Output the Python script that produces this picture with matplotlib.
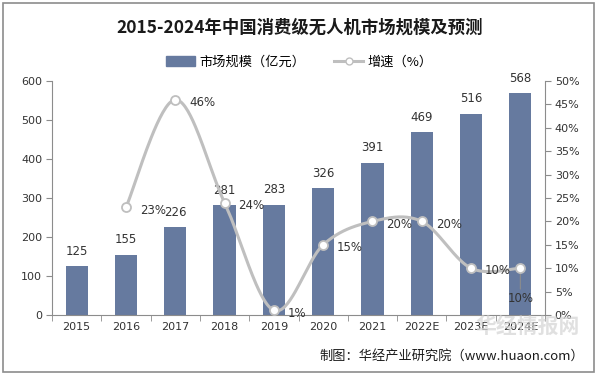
import matplotlib
matplotlib.use("Agg")
import matplotlib.pyplot as plt
import numpy as np
from matplotlib.patches import Rectangle
from matplotlib.lines import Line2D

plt.rcParams['font.family'] = ['Noto Sans CJK SC', 'DejaVu Sans']

years = ['2015', '2016', '2017', '2018', '2019', '2020', '2021', '2022E', '2023E', '2024E']
market = [125, 155, 226, 281, 283, 326, 391, 469, 516, 568]
growth = [None, 23, 46, 24, 1, 15, 20, 20, 10, 10]
title = '2015-2024年中国消费级无人机市场规模及预测'
bar_label = '市场规模（亿元）'
line_label = '增速（%）'
source = '制图：华经产业研究院（www.huaon.com）'
watermark = '华经情报网'

BAR_C = '#667A9F'
LINE_C = '#BFBFBF'
AX_C = '#8C8C8C'
TXT_C = '#333333'

W, H = 599, 375
fig = plt.figure(figsize=(W / 100, H / 100), dpi=100)
ax = fig.add_axes([52 / W, 1 - 315 / H, (545 - 52) / W, (315 - 81) / H])
ax2 = ax.twinx()

x = np.arange(len(years))
ax.bar(x, market, width=0.45, color=BAR_C, zorder=2)
for xi, v in zip(x, market):
    ax.annotate(str(v), (xi, v), xytext=(0, 6), textcoords='offset points',
                ha='center', va='bottom', fontsize=8.5, color=TXT_C, family='DejaVu Sans')

ax.set_xlim(-0.5, len(years) - 0.5)
ax.set_ylim(0, 600)
ax.set_yticks(range(0, 601, 100))
ax.set_xticks(x)
ax.set_xticklabels(years)
ax.set_xticks(np.arange(-0.5, len(years), 1), minor=True)
ax.tick_params(axis='x', which='major', length=0, labelsize=8, colors=TXT_C, pad=5)
ax.tick_params(axis='x', which='minor', length=4, color=AX_C, direction='out')
ax.tick_params(axis='y', length=4, color=AX_C, labelsize=8, labelcolor=TXT_C, pad=3)
for lab in ax.get_xticklabels() + ax.get_yticklabels():
    lab.set_family('DejaVu Sans')
for s in ['top', 'right']:
    ax.spines[s].set_visible(False)
for s in ['left', 'bottom']:
    ax.spines[s].set_color(AX_C)

# smooth line (Bezier/Catmull-Rom through the data points, like Excel smoothing)
gx = np.array([i for i, g in enumerate(growth) if g is not None], dtype=float)
gy = np.array([g for g in growth if g is not None], dtype=float)
P = np.column_stack([gx, gy])
Pext = np.vstack([P[0], P, P[-1]])
curve = []
t = np.linspace(0, 1, 40)
for i in range(1, len(Pext) - 2):
    p0, p1, p2, p3 = Pext[i - 1], Pext[i], Pext[i + 1], Pext[i + 2]
    c1 = p1 + (p2 - p0) / 6
    c2 = p2 - (p3 - p1) / 6
    seg = ((1 - t)[:, None] ** 3 * p1 + 3 * ((1 - t) ** 2 * t)[:, None] * c1
           + 3 * ((1 - t) * t ** 2)[:, None] * c2 + (t ** 3)[:, None] * p2)
    curve.append(seg)
curve = np.vstack(curve)
ax2.plot(curve[:, 0], curve[:, 1], color=LINE_C, lw=2.2, zorder=3, solid_capstyle='round')
ax2.plot(gx, gy, 'o', ms=6.5, mfc='white', mec=LINE_C, mew=1.3, zorder=4)
for xi, yi in zip(gx, gy):
    if xi == gx[-1]:
        ax2.annotate(f'{int(yi)}%', (xi, yi), xytext=(0, -17), textcoords='offset points',
                     ha='center', va='top', fontsize=8.5, color=TXT_C, family='DejaVu Sans',
                     arrowprops=dict(arrowstyle='-', color=AX_C, lw=0.8, shrinkA=0, shrinkB=3))
    else:
        ax2.annotate(f'{int(yi)}%', (xi, yi), xytext=(10, -2), textcoords='offset points',
                     ha='left', va='center', fontsize=8.5, color=TXT_C, family='DejaVu Sans')
ax2.set_ylim(0, 50)
ax2.set_yticks(range(0, 51, 5))
ax2.set_yticklabels([f'{v}%' for v in range(0, 51, 5)])
ax2.tick_params(axis='y', length=4, color=AX_C, labelsize=8, labelcolor=TXT_C, pad=3)
for lab in ax2.get_yticklabels():
    lab.set_family('DejaVu Sans')
for s in ['top', 'left', 'bottom']:
    ax2.spines[s].set_visible(False)
ax2.spines['right'].set_color(AX_C)

# title and legend
fig.text(0.5, 1 - 28 / H, title, ha='center', va='center', fontsize=12.5,
         fontweight='bold', color='#1a1a1a')
handles = [Rectangle((0, 0), 1, 1, color=BAR_C),
           Line2D([], [], color=LINE_C, lw=2.2, marker='o', ms=5, mfc='white', mec=LINE_C)]
fig.legend(handles, [bar_label, line_label], loc='center', bbox_to_anchor=(0.5, 1 - 62 / H),
           ncol=2, frameon=False, fontsize=9.5, handlelength=2.2, columnspacing=2.2,
           handletextpad=0.3)

# watermark + source
fig.text(528 / W, 1 - 326 / H, watermark, ha='center', va='center', fontsize=15,
         color='#d4d4d4', alpha=0.7, fontweight='bold', zorder=0)
fig.text(0.975, 1 - 356 / H, source, ha='right', va='center', fontsize=9.5, color='#1a1a1a')

fig.add_artist(Rectangle((3 / W, 3 / H), 1 - 8 / W, 1 - 6 / H, transform=fig.transFigure,
                         fill=False, edgecolor=AX_C, lw=1.2))

fig.savefig('out.png', dpi=100)
